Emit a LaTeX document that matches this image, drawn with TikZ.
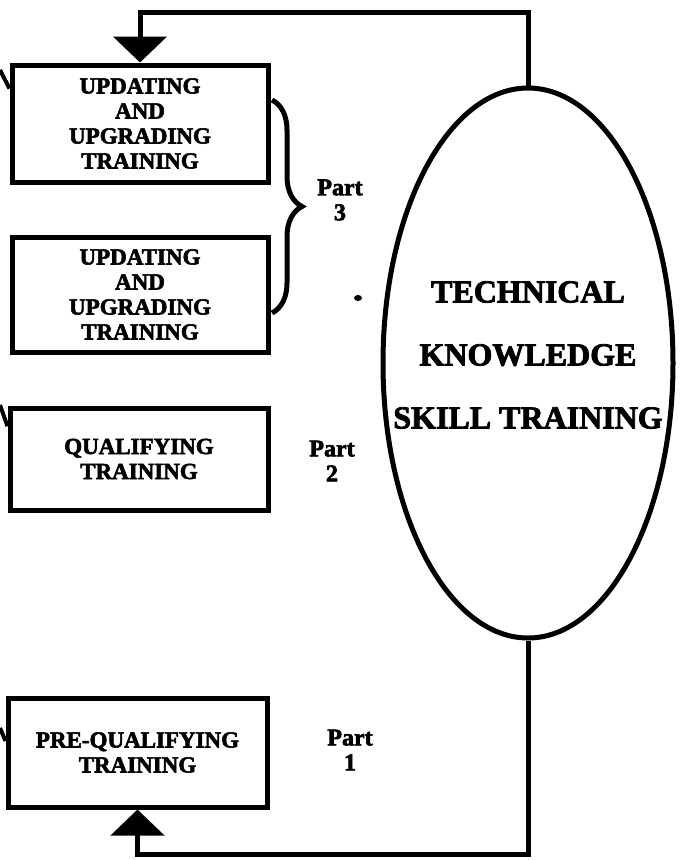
\documentclass[tikz,border=0pt]{standalone}
\usepackage{fontspec}
\setmainfont{Liberation Serif}
\newfontfamily\heavyfont{Liberation Serif Bold}[FakeBold=2.5]
\usetikzlibrary{shapes, arrows.meta, positioning, decorations.pathreplacing}

\tikzset{
  trainbox/.style={draw, line width=5pt, minimum width=256pt, inner sep=2pt, align=center, font=\fontsize{23}{25}\selectfont\heavyfont},
  partlabel/.style={align=center, font=\fontsize{24}{25}\selectfont\heavyfont},
  flow/.style={line width=5pt, -{Triangle[width=53pt, length=26pt]}},
  stub/.style={line width=4pt},
}

\begin{document}
\begin{tikzpicture}[x=1pt, y=-1pt]
  \useasboundingbox (0,0) rectangle (681,860);

  % training boxes, top to bottom
  \node[trainbox, minimum height=117pt] (upd1) at (140,123.5) {UPDATING\\AND\\UPGRADING\\TRAINING};
  \node[trainbox, minimum height=115pt] (upd2) at (140,294.5) {UPDATING\\AND\\UPGRADING\\TRAINING};
  \node[trainbox, minimum height=102pt, minimum width=258pt] (qual) at (139,459) {QUALIFYING\\TRAINING};
  \node[trainbox, minimum height=109pt, minimum width=259pt] (prequal) at (137.5,752.5) {PRE-QUALIFYING\\TRAINING};

  % the big ellipse
  \node[draw, ellipse, line width=5pt, minimum width=290pt, minimum height=550pt, inner sep=0pt] (skill) at (528,363) {};
  \node[align=center, font=\fontsize{32}{63}\selectfont\heavyfont] (skilltxt) at (528,355) {TECHNICAL\\KNOWLEDGE\\SKILL TRAINING};

  % parts
  \node[partlabel] (part3) at (340,200) {Part\\3};
  \node[partlabel] (part2) at (332,461) {Part\\2};
  \node[partlabel] (part1) at (350,750) {Part\\1};

  \draw[line width=5pt, decorate, decoration={brace, amplitude=30pt}] (272,100) -- (272,313);
  \fill (358,298) ellipse (4pt and 3pt);

  % loop round the ellipse
  \coordinate (top) at (0,12);
  \coordinate (bot) at (0,854);
  \draw[flow] (skill.north) |- (upd1.north |- top) -- (upd1.north);
  \draw[flow] (skill.south) |- (prequal.south |- bot) -- (prequal.south);

  % lines coming in from the left
  \coordinate (in1) at (0,70);
  \coordinate (in3) at (0,405);
  \coordinate (in4) at (0,728);
  \draw[stub] (in1) -- (upd1.165);
  \draw[stub] (in3) -- (qual.166);
  \draw[stub] (in4) -- (prequal.175);
\end{tikzpicture}
\end{document}
